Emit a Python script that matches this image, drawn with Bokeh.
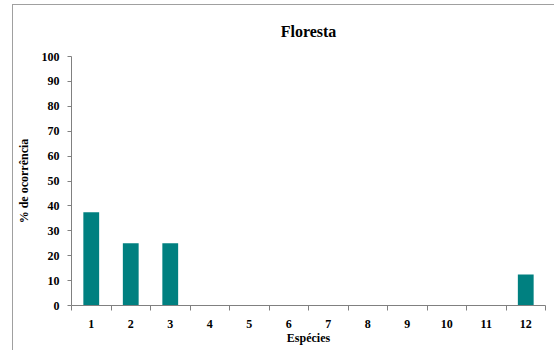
from bokeh.plotting import figure
from bokeh.models import Range1d, FixedTicker
from bokeh.embed import file_html
from bokeh.resources import INLINE

especies = [1, 2, 3, 4, 5, 6, 7, 8, 9, 10, 11, 12]
ocorrencia = [37.5, 25, 25, 0, 0, 0, 0, 0, 0, 0, 0, 12.5]
y_ticks = [0, 10, 20, 30, 40, 50, 60, 70, 80, 90, 100]
x_bounds = [0.5 + i for i in range(13)]
titulo = "Floresta"

FONT = "Liberation Serif"

p = figure(width=542, height=346, output_backend="svg", toolbar_location=None,
           x_range=Range1d(0.5, 12.5), y_range=Range1d(0, 100),
           min_border_left=57, min_border_right=10, min_border_top=51, min_border_bottom=46,
           title=titulo, margin=(4, 0, 0, 12))
p.styles = {"border-left": "1px solid #a0a0a0", "border-top": "1px solid #a0a0a0"}

p.vbar(x=especies, top=ocorrencia, width=0.4, color="#008080", line_color=None)

p.title.align = "center"
p.title.vertical_align = "middle"
p.title.text_font = FONT
p.title.text_font_size = "16px"
p.title.text_font_style = "bold"
p.title.text_color = "black"
p.title.standoff = 32

p.grid.visible = False
p.outline_line_color = None
p.background_fill_color = "white"
p.border_fill_color = "white"

xa = p.xaxis[0]
xa.ticker = FixedTicker(ticks=especies, minor_ticks=x_bounds)
xa.major_tick_out = 0
xa.major_tick_in = 0
xa.minor_tick_out = 5
xa.minor_tick_in = 0
xa.minor_tick_line_color = "#808080"
xa.axis_line_color = "#808080"
xa.major_label_standoff = 9
xa.major_label_text_font = FONT
xa.major_label_text_font_style = "bold"
xa.major_label_text_font_size = "12px"
xa.major_label_text_color = "black"
xa.axis_label = "Espécies"
xa.axis_label_text_font = FONT
xa.axis_label_text_font_style = "bold"
xa.axis_label_text_font_size = "12px"
xa.axis_label_text_color = "black"
xa.axis_label_standoff = 0

ya = p.yaxis[0]
ya.ticker = FixedTicker(ticks=y_ticks)
ya.major_tick_out = 4
ya.major_tick_in = 0
ya.minor_tick_out = 0
ya.minor_tick_in = 0
ya.major_tick_line_color = "#808080"
ya.axis_line_color = "#808080"
ya.major_label_standoff = 8
ya.major_label_text_font = FONT
ya.major_label_text_font_style = "bold"
ya.major_label_text_font_size = "12px"
ya.major_label_text_color = "black"
ya.axis_label = "% de ocorrência"
ya.axis_label_text_font = FONT
ya.axis_label_text_font_style = "bold"
ya.axis_label_text_font_size = "12px"
ya.axis_label_text_color = "black"
ya.axis_label_standoff = 8

open("out.html", "w").write(file_html(p, INLINE))
